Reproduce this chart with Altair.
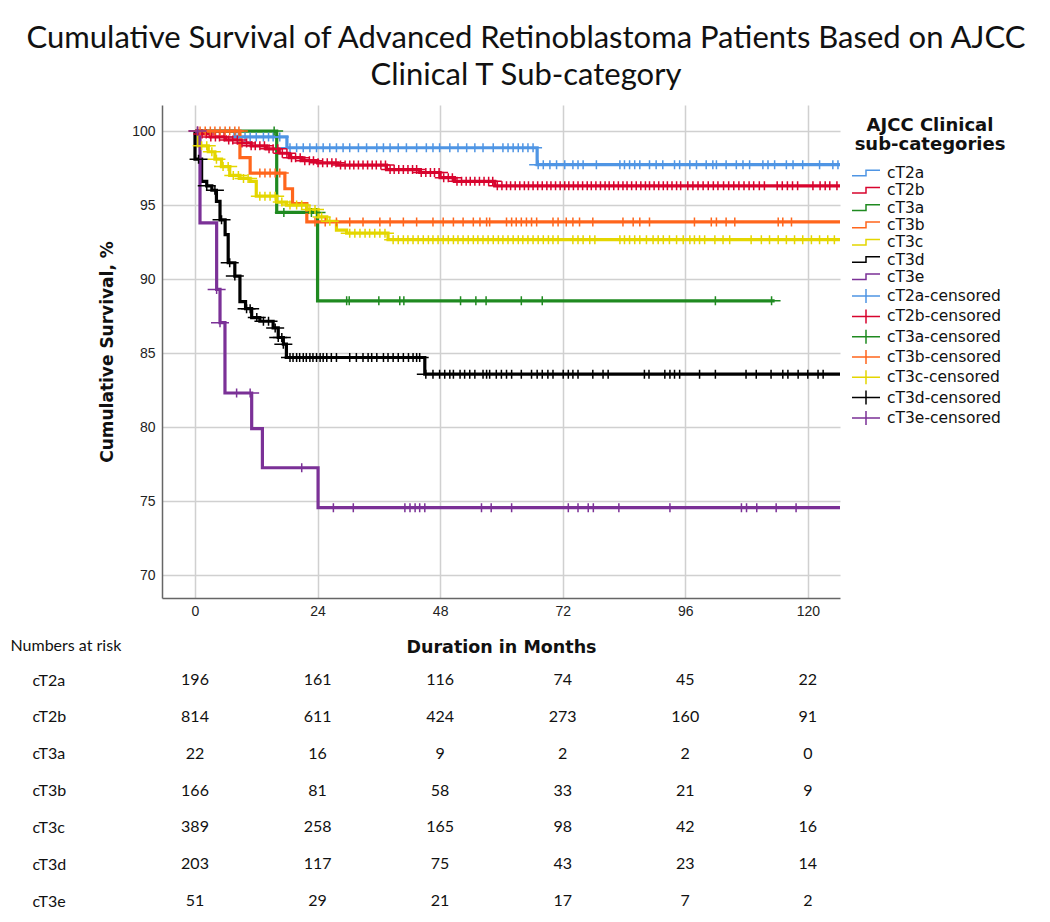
import altair as alt
import pandas as pd

groups = ["cT2a", "cT2b", "cT3a", "cT3b", "cT3c", "cT3d", "cT3e"]
colors = ["#4f95e4", "#d8042e", "#1f8a20", "#ff661c", "#e4d600", "#000000", "#7b3197"]

# step curves: event times (months) and cumulative survival (%)
t_cT2a = [0, 7.8, 18.0, 67.0, 126.3]
s_cT2a = [100, 99.6, 98.87, 97.73, 97.73]

t_cT2b = [0, 1.0, 3.0, 6.0, 8.5, 11.0, 14.0, 16.5, 18.5, 21.0, 24.0, 28.0, 37.5, 44.0, 48.0, 50.8, 58.7, 126.3]
s_cT2b = [100, 99.8, 99.6, 99.4, 99.2, 99.0, 98.8, 98.5, 98.2, 98.0, 97.85, 97.7, 97.4, 97.2, 96.85, 96.6, 96.3, 96.3]

t_cT3a = [0, 16.0, 24.0, 113.5]
s_cT3a = [100, 94.5, 88.53, 88.53]

t_cT3b = [0, 8.8, 10.8, 17.6, 19.1, 21.9, 126.3]
s_cT3b = [100, 98.2, 97.16, 96.1, 95.1, 93.86, 93.86]

t_cT3c = [0, 0.65, 2.6, 3.9, 5.2, 6.8, 8.8, 10.8, 12.0, 16.0, 17.9, 21.9, 24.1, 25.8, 27.7, 29.7, 37.8, 126.3]
s_cT3c = [100, 99.0, 98.6, 98.1, 97.6, 97.0, 96.8, 96.6, 95.6, 95.2, 95.0, 94.7, 94.2, 93.9, 93.3, 93.1, 92.66, 92.66]

t_cT3d = [0, 0, 1.3, 2.3, 3.3, 4.2, 4.9, 5.9, 6.5, 7.8, 8.8, 9.9, 11.1, 12.7, 15.3, 16.3, 17.3, 17.9, 45.0, 126.3]
s_cT3d = [100, 98.1, 96.6, 96.3, 96.0, 95.25, 94.0, 93.0, 91.1, 90.2, 88.47, 88.0, 87.4, 87.15, 86.7, 86.05, 85.6, 84.7, 83.57, 83.57]

t_cT3e = [0, 0.98, 4.24, 4.9, 5.87, 11.1, 13.2, 24.1, 126.3]
s_cT3e = [100, 93.8, 89.3, 87.05, 82.3, 79.9, 77.25, 74.55, 74.55]

# censoring times (months)
c_cT2a = [8.5, 9.8, 10.8, 12.0, 13.4, 14.4, 15.3, 16.6, 18.6, 19.9, 21.2, 22.5, 23.8, 25.1, 26.4, 27.7, 29.0,
          30.3, 32.0, 33.6, 35.6, 36.9, 38.2, 39.8, 41.4, 43.4, 45.3, 46.6, 47.9, 49.9, 51.5, 53.2, 54.8, 56.4,
          58.4, 60.3, 61.3, 62.3, 63.3, 64.2, 65.2, 66.2, 67.2, 68.2, 69.5, 70.8, 72.4, 74.0, 75.0, 76.0, 78.6,
          83.2, 84.1, 85.1, 86.1, 87.1, 89.0, 90.3, 91.6, 93.9, 94.9, 96.9, 98.2, 100.1, 101.4, 102.1, 104.0,
          106.0, 107.3, 108.6, 111.2, 112.2, 113.5, 115.8, 117.1, 119.0, 122.3, 124.9, 125.9]
c_cT2b = [0.5, 1.4, 2.2, 3.1, 4.0, 4.8, 5.7, 6.6, 7.4, 8.3, 9.2, 10.1, 11.0, 11.8, 12.7, 13.6, 14.5, 15.3, 16.2,
          17.1, 18.0, 18.9, 19.7, 20.6, 21.5, 22.4, 23.2, 24.1, 25.0, 25.9, 26.8, 27.6, 28.5, 29.4, 30.3, 31.1,
          32.0, 32.9, 33.8, 34.7, 35.5, 36.4, 37.3, 38.2, 39.0, 39.9, 40.8, 41.7, 42.6, 43.4, 44.3, 45.2, 46.1,
          46.9, 47.8, 48.7, 49.6, 50.4, 51.3, 52.2, 53.1, 53.9, 54.8, 55.7, 56.6, 57.5, 58.3, 59.2, 60.1, 61.0,
          61.8, 62.7, 63.6, 64.5, 65.3, 66.2, 67.1, 68.0, 68.9, 69.7, 70.6, 71.5, 72.4, 73.2, 74.1, 75.0, 75.9,
          76.8, 77.6, 78.5, 79.4, 80.3, 81.1, 82.0, 82.9, 83.8, 84.6, 85.5, 86.4, 87.3, 88.2, 89.0, 89.9, 90.8,
          91.7, 92.5, 93.4, 94.3, 95.1, 96.5, 97.5, 98.5, 99.5, 100.5, 101.5, 102.4, 103.5, 104.5, 105.5, 106.5,
          107.5, 108.5, 109.4, 110.5, 111.5, 114.0, 115.0, 116.0, 117.0, 118.0, 121.0, 122.4, 123.4, 124.3, 125.7]
c_cT3a = [15.5, 17.4, 22.8, 23.8, 29.7, 30.2, 36.0, 40.1, 40.9, 52.0, 55.0, 57.0, 63.9, 68.0, 101.9, 112.9]
c_cT3b = [1.0, 2.0, 3.0, 3.9, 4.9, 5.9, 6.8, 7.8, 8.6, 12.7, 13.7, 14.7, 15.7, 16.6, 23.5, 25.5, 27.7, 30.3,
          32.9, 36.2, 38.2, 40.8, 43.4, 46.6, 48.6, 50.6, 52.5, 54.5, 55.8, 57.1, 57.7, 61.0, 62.0, 62.9, 63.9,
          64.9, 65.9, 66.9, 70.1, 71.1, 72.7, 74.0, 75.3, 77.9, 83.8, 85.8, 87.1, 89.0, 97.8, 101.1, 102.1,
          104.0, 105.7, 114.2, 115.1, 116.8]
c_cT3c = [1.3, 2.3, 3.3, 4.2, 5.5, 6.5, 7.5, 8.5, 9.5, 10.4, 12.7, 13.7, 14.7, 15.7, 17.0, 18.6, 19.9, 20.9,
          22.5, 23.5, 24.8, 26.4, 30.3, 31.3, 32.3, 33.3, 34.2, 35.2, 36.2, 37.2, 38.8, 39.8, 40.8, 41.7, 42.7,
          43.7, 44.7, 45.7, 46.6, 47.6, 48.6, 49.6, 50.6, 51.5, 52.5, 53.5, 54.5, 55.4, 56.4, 57.4, 58.4, 59.4,
          60.3, 61.3, 62.3, 63.3, 64.2, 65.2, 66.2, 67.2, 68.2, 69.2, 70.1, 71.1, 74.0, 75.0, 76.0, 77.3, 78.3,
          83.2, 84.1, 85.1, 86.1, 87.1, 88.4, 89.7, 90.7, 91.7, 92.9, 94.3, 95.6, 96.9, 97.8, 98.8, 99.8,
          101.8, 103.4, 104.7, 108.9, 110.9, 112.5, 114.2, 115.8, 117.4, 119.0, 120.7, 122.3, 123.9, 125.2]
c_cT3d = [0.7, 2.3, 3.9, 5.2, 6.8, 7.8, 10.1, 10.8, 12.1, 13.4, 14.4, 15.7, 16.3, 17.0, 17.3, 18.6, 19.2, 19.9,
          20.5, 21.2, 21.8, 22.5, 23.1, 23.8, 24.5, 25.1, 25.8, 26.7, 27.7, 30.3, 31.6, 32.9, 33.9, 34.6, 35.6,
          36.9, 37.8, 38.8, 39.8, 40.8, 41.8, 42.7, 43.4, 44.0, 45.2, 46.6, 47.9, 48.9, 49.9, 50.6, 51.9, 52.8,
          53.8, 54.8, 56.4, 57.1, 57.7, 59.0, 60.0, 61.0, 62.0, 63.9, 65.9, 67.0, 68.0, 69.1, 70.1, 72.1, 73.1,
          74.0, 75.0, 77.9, 79.9, 80.9, 88.0, 88.9, 92.0, 93.0, 93.9, 94.9, 98.8, 101.9, 107.9, 109.9, 112.8,
          115.1, 116.1, 118.1, 120.0, 122.0, 123.0]
c_cT3e = [0.5, 4.24, 4.9, 8.15, 10.8, 20.9, 27.1, 31.0, 41.1, 42.1, 43.1, 44.0, 45.0, 56.1, 58.0, 62.0, 73.1,
          75.0, 77.0, 78.0, 83.0, 93.0, 107.0, 108.0, 110.0, 113.8, 117.7]

# numbers at risk at 0, 24, 48, 72, 96, 120 months
risk_months = [0, 24, 48, 72, 96, 120]
risk_cT2a = [196, 161, 116, 74, 45, 22]
risk_cT2b = [814, 611, 424, 273, 160, 91]
risk_cT3a = [22, 16, 9, 2, 2, 0]
risk_cT3b = [166, 81, 58, 33, 21, 9]
risk_cT3c = [389, 258, 165, 98, 42, 16]
risk_cT3d = [203, 117, 75, 43, 23, 14]
risk_cT3e = [51, 29, 21, 17, 7, 2]

steps = {"cT2a": (t_cT2a, s_cT2a), "cT2b": (t_cT2b, s_cT2b), "cT3a": (t_cT3a, s_cT3a),
         "cT3b": (t_cT3b, s_cT3b), "cT3c": (t_cT3c, s_cT3c), "cT3d": (t_cT3d, s_cT3d),
         "cT3e": (t_cT3e, s_cT3e)}
censors = {"cT2a": c_cT2a, "cT2b": c_cT2b, "cT3a": c_cT3a, "cT3b": c_cT3b, "cT3c": c_cT3c,
           "cT3d": c_cT3d, "cT3e": c_cT3e}
risks = {"cT2a": risk_cT2a, "cT2b": risk_cT2b, "cT3a": risk_cT3a, "cT3b": risk_cT3b,
         "cT3c": risk_cT3c, "cT3d": risk_cT3d, "cT3e": risk_cT3e}


def surv_at(times, survs, t):
    v = survs[0]
    for tt, ss in zip(times, survs):
        if tt <= t:
            v = ss
    return v


line_rows, cens_rows, risk_rows = [], [], []
for g in groups:
    ts, ss = steps[g]
    for i, (t, s) in enumerate(zip(ts, ss)):
        line_rows.append({"group": g, "time": t, "surv": s, "idx": i})
    for t in censors[g]:
        cens_rows.append({"series": g + "-censored", "time": t, "surv": surv_at(ts, ss, t)})
    for m, n in zip(risk_months, risks[g]):
        risk_rows.append({"group": g, "month": m, "n": str(n)})

line_df = pd.DataFrame(line_rows)
cens_df = pd.DataFrame(cens_rows)
risk_df = pd.DataFrame(risk_rows)

series_all = groups + [g + "-censored" for g in groups]
step_path = "M-2,0.4H0V-0.4H2"
cross_path = "M-2,0H2M0,-1V1"

x_scale = alt.Scale(domain=[-6.46, 126.3], nice=False, zero=False)
y_scale = alt.Scale(domain=[68.45, 101.76], nice=False, zero=False)

legend = alt.Legend(
    title=["AJCC Clinical", "sub-categories"], orient="right", offset=3, padding=12,
    titleFont="DejaVu Sans", titleFontSize=18, titleFontWeight="bold", titleColor="#111",
    titleAnchor="middle", titleAlign="center", titleLineHeight=19, titlePadding=11,
    labelFont="DejaVu Sans", labelFontSize=15.5, labelColor="#111", labelOffset=13,
    symbolSize=196, symbolStrokeWidth=1.5, rowPadding=0.3, labelLimit=300,
)

lines = alt.Chart(line_df).mark_line(interpolate="step-after", strokeWidth=3.2, clip=True).encode(
    x=alt.X("time:Q", scale=x_scale,
            axis=alt.Axis(values=risk_months, format="d", title="Duration in Months",
                          labelPadding=6, titlePadding=20, titleFontSize=17.5)),
    y=alt.Y("surv:Q", scale=y_scale,
            axis=alt.Axis(values=[70, 75, 80, 85, 90, 95, 100], format="d",
                          title="Cumulative Survival, %", labelPadding=7, titlePadding=15,
                          titleFontSize=17)),
    stroke=alt.Stroke("group:N", scale=alt.Scale(domain=groups, range=colors), legend=None),
    order=alt.Order("idx:Q"),
)

cens = alt.Chart(cens_df).mark_point(filled=False, size=81, strokeWidth=1.5, opacity=1, clip=True).encode(
    x="time:Q",
    y="surv:Q",
    color=alt.Color("series:N", scale=alt.Scale(domain=series_all, range=colors + colors), legend=legend),
    shape=alt.Shape("series:N", scale=alt.Scale(domain=series_all, range=[step_path] * 7 + [cross_path] * 7),
                    legend=legend),
)

top = alt.layer(lines, cens).properties(width=678, height=493)

table = alt.Chart(risk_df).mark_text(font="Lato", fontSize=16, color="#111", align="center",
                                     baseline="middle").encode(
    x=alt.X("month:Q", scale=x_scale, axis=None),
    y=alt.Y("group:N", scale=alt.Scale(type="point", domain=groups, padding=0),
            axis=alt.Axis(title="Numbers at risk", titleAngle=0, titleX=-152, titleY=-35,
                          titleAlign="left", titleBaseline="middle", titleFont="Lato",
                          titleFontSize=16, titleFontWeight="normal", titleColor="#111",
                          labelAlign="left", labelPadding=130, labelFont="Lato", labelFontSize=16,
                          labelColor="#111", labelBaseline="middle", domain=False, ticks=False,
                          grid=False)),
    text="n:N",
).properties(width=678, height=221)

chart = alt.vconcat(top, table, spacing=82, bounds="flush").properties(
    title=alt.TitleParams(
        text=["Cumulative Survival of Advanced Retinoblastoma Patients Based on AJCC",
              "Clinical T Sub-category"],
        font="Lato", fontSize=31, fontWeight="normal", color="#111", anchor="middle",
        lineHeight=37, offset=13, dx=12),
    padding={"left": 2, "top": 15, "right": 2, "bottom": 0},
).configure_view(stroke=None).configure_axis(
    gridColor="#d0d0d0", gridWidth=1.5, domainColor="#666", domainWidth=1.5,
    ticks=False, tickSize=0, labelFont="Liberation Sans", labelFontSize=14, labelColor="#222",
    titleFont="DejaVu Sans", titleFontSize=16.5, titleFontWeight="bold", titleColor="#111",
)

chart.save("out.html", embed_options={"renderer": "svg", "actions": False})
